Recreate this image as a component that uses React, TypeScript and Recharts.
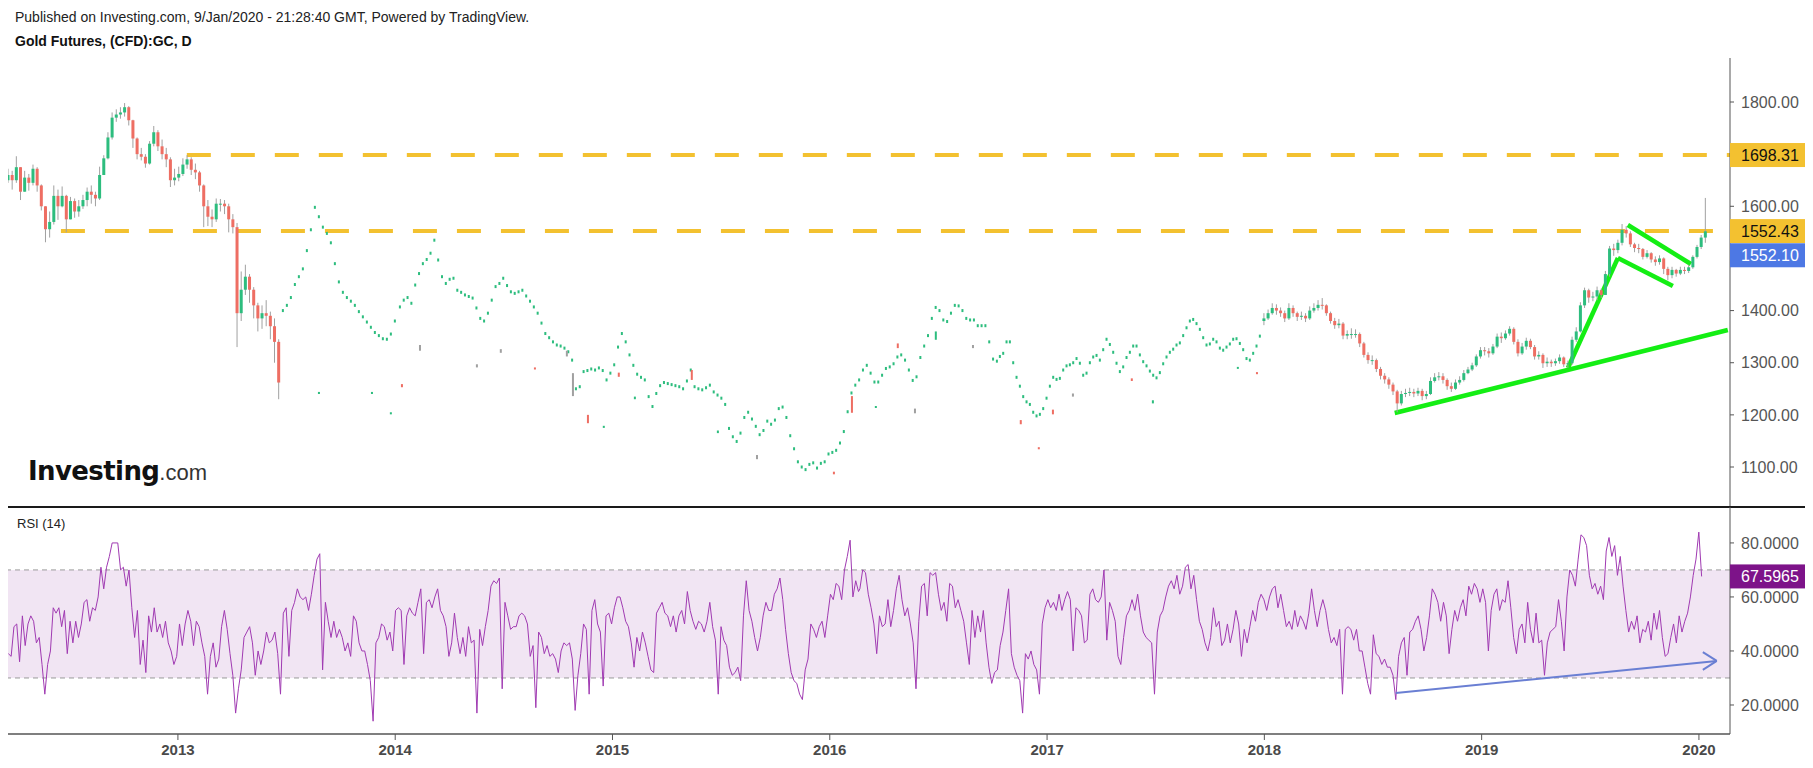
import {
  ComposedChart,
  Scatter,
  Line,
  XAxis,
  YAxis,
  ReferenceLine,
  ReferenceArea,
} from "recharts";

// ---- axis ranges (years on x, price / RSI on y) ----
const X_MIN = 2012.218;
const X_MAX = 2020.143;
const P_MIN = 1023.3;
const P_MAX = 1884.4;
const R_MIN = 9.26;
const R_MAX = 93.3;
const PRICE_PLOT_H = 449;
const PX = PRICE_PLOT_H / (P_MAX - P_MIN);

const YEARS = [2013, 2014, 2015, 2016, 2017, 2018, 2019, 2020];
const PRICE_TICKS = [1100, 1200, 1300, 1400, 1600, 1800];
const RSI_TICKS = [20, 40, 60, 80];

const WEEK = 7 / 365.25;

// weekly candles, Mar 2012 - Jun 2013
const EARLY_START = 2012.218;
const EARLY_FIRST_OPEN = 1650;
const EARLY_CLOSE = [
  1660, 1650, 1675, 1628, 1655, 1645, 1672, 1640, 1600, 1556,
  1570, 1620, 1600, 1620, 1575, 1610, 1590, 1600, 1612, 1628,
  1622, 1615, 1660, 1692, 1732, 1770, 1776, 1780, 1790, 1765,
  1730, 1700, 1695, 1682, 1720, 1742, 1715, 1700, 1690, 1650,
  1655, 1662, 1680, 1690, 1670, 1665, 1640, 1600, 1580, 1575,
  1605, 1605, 1600, 1575, 1560, 1395, 1440, 1465, 1440, 1410,
  1385, 1395, 1390, 1370, 1340, 1262,
];
const EARLY_HIGH = [
  1672, 1668, 1696, 1665, 1668, 1662, 1680, 1675, 1642, 1600,
  1590, 1640, 1632, 1638, 1622, 1618, 1615, 1612, 1622, 1636,
  1640, 1628, 1676, 1698, 1742, 1780, 1786, 1790, 1798, 1792,
  1766, 1732, 1712, 1700, 1725, 1754, 1746, 1728, 1712, 1694,
  1672, 1676, 1692, 1698, 1694, 1682, 1668, 1642, 1612, 1594,
  1615, 1614, 1612, 1605, 1585, 1568, 1475, 1488, 1470, 1445,
  1415, 1410, 1420, 1398, 1385, 1345,
];
const EARLY_LOW = [
  1645, 1632, 1645, 1612, 1632, 1630, 1640, 1628, 1592, 1531,
  1540, 1565, 1574, 1598, 1550, 1575, 1578, 1580, 1595, 1600,
  1605, 1600, 1612, 1660, 1690, 1728, 1762, 1768, 1772, 1755,
  1712, 1690, 1688, 1674, 1680, 1715, 1706, 1690, 1675, 1637,
  1640, 1648, 1658, 1672, 1660, 1652, 1628, 1560, 1562, 1560,
  1570, 1590, 1585, 1550, 1548, 1330, 1380, 1430, 1415, 1385,
  1360, 1365, 1370, 1345, 1300, 1230,
];

// weekly candles, Jan 2018 - Jan 2020
const LATE_START = 2017.998;
const LATE_FIRST_OPEN = 1380;
const LATE_CLOSE = [
  1385, 1395, 1405, 1400, 1395, 1385, 1405, 1395, 1388, 1390,
  1385, 1400, 1405, 1411, 1410, 1395, 1380, 1372, 1375, 1352,
  1355, 1355, 1355, 1337, 1315, 1305, 1305, 1288, 1275, 1268,
  1258, 1245, 1222, 1240, 1242, 1244, 1241, 1246, 1236, 1240,
  1265, 1272, 1274, 1267, 1255, 1250, 1262, 1267, 1280, 1287,
  1295, 1312, 1324, 1322, 1318, 1331, 1350, 1347, 1356, 1365,
  1340, 1318, 1331, 1342, 1330, 1312, 1315, 1299, 1302, 1299,
  1303, 1310, 1297, 1299, 1344, 1360, 1410, 1439, 1425, 1427,
  1439, 1430, 1470, 1519, 1516, 1530, 1555, 1548, 1527, 1520,
  1518, 1503, 1510, 1498, 1493, 1500, 1480, 1468, 1478, 1471,
  1478, 1476, 1483, 1503, 1522, 1540, 1552,
];
const LATE_HIGH = [
  1395, 1402, 1414, 1412, 1406, 1400, 1414, 1410, 1398, 1398,
  1395, 1408, 1414, 1420, 1424, 1412, 1398, 1386, 1384, 1378,
  1362, 1366, 1364, 1358, 1340, 1320, 1314, 1308, 1292, 1280,
  1272, 1262, 1248, 1246, 1250, 1252, 1250, 1252, 1250, 1246,
  1272, 1280, 1282, 1280, 1270, 1262, 1268, 1274, 1286, 1292,
  1300, 1316, 1330, 1330, 1328, 1336, 1356, 1358, 1362, 1370,
  1368, 1345, 1338, 1348, 1346, 1334, 1322, 1318, 1310, 1306,
  1308, 1316, 1312, 1304, 1350, 1368, 1416, 1444, 1442, 1436,
  1446, 1442, 1476, 1524, 1528, 1536, 1566, 1562, 1552, 1530,
  1528, 1520, 1516, 1512, 1504, 1506, 1502, 1484, 1484, 1480,
  1484, 1484, 1488, 1506, 1526, 1545, 1616,
];
const LATE_LOW = [
  1372, 1382, 1392, 1392, 1388, 1378, 1382, 1388, 1380, 1382,
  1378, 1382, 1396, 1400, 1402, 1390, 1375, 1365, 1366, 1345,
  1345, 1346, 1348, 1330, 1310, 1298, 1296, 1282, 1268, 1260,
  1250, 1238, 1205, 1218, 1234, 1236, 1234, 1236, 1228, 1230,
  1238, 1262, 1266, 1260, 1248, 1244, 1248, 1258, 1264, 1278,
  1284, 1292, 1308, 1314, 1310, 1315, 1328, 1338, 1344, 1352,
  1335, 1312, 1315, 1325, 1326, 1306, 1306, 1290, 1292, 1292,
  1294, 1298, 1292, 1290, 1296, 1340, 1358, 1405, 1415, 1418,
  1420, 1424, 1430, 1465, 1505, 1510, 1525, 1540, 1522, 1512,
  1510, 1498, 1500, 1492, 1486, 1488, 1470, 1458, 1462, 1465,
  1468, 1470, 1472, 1480, 1500, 1518, 1530,
];

// sparse dotted prints, mid 2013 - end 2017
const DOTS_A_START = 2013.483;
const DOTS_A_STEP = 0.018408;
const DOTS_A = [
  1400, 1410, 1425, 1450, 1465, 1480, 1515, 1555, 1598, 1580,
  1560, 1548, 1530, 1490, 1455, 1435, 1425, 1418, 1410, 1398,
  1388, 1378, 1368, 1358, 1352, 1346, 1345, 1355, 1380,
];
const DOTS_B_START = 2014.0216;
const DOTS_B_STEP = 0.017612;
const DOTS_B = [
  1407, 1420, 1425, 1414, 1449, 1471, 1490, 1498, 1510, 1535,
  1497, 1465, 1452, 1460, 1462, 1439, 1435, 1430, 1427, 1424,
  1405, 1385, 1380, 1395, 1420, 1446, 1452, 1462, 1448, 1436,
  1433, 1436, 1439, 1428, 1418, 1407, 1395, 1376, 1356, 1348,
  1340, 1334, 1332, 1328, 1321, 1305, 1250, 1254, 1283, 1285,
  1288, 1286, 1290, 1285, 1267, 1280, 1296, 1330, 1356, 1340,
  1315, 1295, 1278, 1272, 1267, 1235, 1216, 1241, 1256, 1262,
  1260, 1258, 1256, 1254, 1250, 1265, 1286, 1254, 1250, 1248,
  1252, 1257, 1244, 1238, 1232, 1220, 1174, 1158, 1149, 1165,
  1195, 1205, 1192, 1178, 1162, 1170, 1188, 1182, 1190, 1212,
  1215, 1195, 1160, 1135, 1110, 1100, 1095, 1105, 1108, 1098,
  1107, 1110, 1125, 1128, 1132, 1146, 1168, 1206, 1242, 1257,
  1267, 1286, 1295, 1280, 1263, 1263, 1276, 1289, 1292, 1298,
  1311, 1315, 1305, 1286, 1266, 1273, 1310, 1332, 1352, 1385,
  1406, 1400, 1382, 1379, 1395, 1410, 1409, 1400, 1385, 1382,
  1382, 1371, 1371, 1371, 1340, 1307, 1303,
];
const DOTS_C_START = 2016.7828;
const DOTS_C_STEP = 0.015339;
const DOTS_C = [
  1312, 1318, 1340, 1340, 1300, 1272, 1255, 1235, 1225, 1220,
  1205, 1198, 1201, 1212, 1232, 1255, 1272, 1268, 1270, 1286,
  1294, 1296, 1300, 1308, 1299, 1276, 1280, 1300, 1311, 1314,
  1305, 1325, 1345, 1335, 1320, 1299, 1283, 1292, 1310, 1320,
  1332, 1332, 1315, 1302, 1294, 1284, 1276, 1271, 1281, 1298,
  1311, 1320, 1326, 1334, 1338, 1352, 1367, 1380, 1383, 1375,
  1364, 1348, 1334, 1336, 1345, 1340, 1328, 1324, 1330, 1336,
  1345, 1346, 1337, 1325, 1308, 1305, 1318, 1332, 1351,
];
// stray wicks inside the sparse stretch: [year, low, high, kind]
const STRAYS: [number, number, number, string][] = [
  [2013.649, 1240, 1244, "g"], [2013.893, 1240, 1244, "g"], [2013.98, 1201, 1205, "g"],
  [2014.031, 1253, 1259, "r"], [2014.114, 1323, 1334, "w"], [2014.376, 1291, 1297, "w"],
  [2014.486, 1319, 1326, "w"], [2014.643, 1287, 1291, "r"], [2014.79, 1312, 1323, "w"],
  [2014.818, 1236, 1280, "w"], [2014.887, 1184, 1200, "r"], [2014.96, 1175, 1179, "g"],
  [2015.029, 1273, 1281, "r"], [2015.103, 1230, 1235, "g"], [2015.365, 1267, 1286, "r"],
  [2015.485, 1165, 1170, "g"], [2015.665, 1115, 1123, "w"], [2016.019, 1086, 1091, "r"],
  [2016.102, 1204, 1236, "r"], [2016.212, 1214, 1217, "g"], [2016.313, 1328, 1337, "r"],
  [2016.392, 1203, 1212, "w"], [2016.488, 1344, 1360, "g"], [2016.659, 1328, 1334, "w"],
  [2016.879, 1182, 1190, "r"], [2016.962, 1134, 1138, "r"], [2017.027, 1201, 1210, "r"],
  [2017.119, 1235, 1241, "w"], [2017.39, 1265, 1270, "r"], [2017.487, 1222, 1228, "g"],
  [2017.878, 1289, 1292, "g"], [2017.966, 1278, 1282, "r"],
];

// RSI(14), sampled about every 4.7 days
const RSI_STEP = 0.012913;
const RSI_A_START = 2012.2196;
const RSI_A = [
  39, 38, 49, 50, 36, 53, 42, 50, 53, 51,
  43, 45, 35, 24, 35, 40, 56, 54, 56, 49,
  55, 39, 51, 43, 51, 45, 50, 58, 59, 51,
  56, 55, 60, 71, 63, 71, 75, 80, 80, 80,
  70, 71, 64, 70, 56, 45, 55, 35, 44, 32,
  53, 47, 56, 47, 50, 45, 51, 43, 40, 35,
  38, 50, 42, 50, 55, 51, 42, 51, 49, 43,
  38, 24, 38, 43, 34, 37, 49, 55, 48, 39,
  31, 17, 26, 33, 45, 47, 49, 43, 31, 40,
  35, 40, 47, 43, 44, 47, 39, 24, 54, 56,
  38, 55, 58, 63, 60, 59, 60, 55, 61, 68,
  74, 76, 33, 58, 51, 45, 51, 45, 48, 45,
  40, 43, 38, 53, 51, 43, 40, 40, 35, 29,
  14, 43, 45, 50, 49, 44, 47, 40, 55, 56,
  55, 35, 53, 56, 54, 53, 58, 63, 39, 58,
  59, 56, 60, 63, 55, 53, 49, 38, 43, 54,
  45, 39, 45, 38, 49, 43, 44, 17, 48, 42,
  49, 55, 64, 66, 65, 67, 26, 58, 53, 48,
  49, 49, 53, 54, 53, 50, 38, 42, 19, 47,
  45, 39, 42, 38, 39, 37, 32, 40, 43, 42,
  43, 37, 18, 31, 39, 50, 48, 24, 55, 59,
  50, 47, 27, 53, 54, 50, 56, 60, 60, 56,
  51, 49, 43, 34, 45, 40, 47, 43, 38, 33,
  32, 54, 56, 58, 54, 53, 49, 53, 47, 53,
  55, 50, 62, 55, 51, 48, 51, 50, 47, 51,
  58, 49, 44, 24, 49, 44, 42, 34, 31, 32,
  34, 29, 53, 66, 55, 51, 45, 40, 45, 53,
  58, 55, 55, 61, 63, 67, 59, 48, 39, 32,
  29, 28, 24, 22, 33, 37, 50, 48, 45, 49,
  51, 45, 53, 61, 59, 65, 64, 59, 70, 75,
  81, 60, 66, 62,
];
const RSI_B_START = 2016.1385;
const RSI_B = [
  63, 70, 69, 61, 56, 50, 39, 53, 49, 50,
  59, 49, 55, 63, 68, 59, 53, 56, 50, 43,
  26, 51, 64, 65, 53, 69, 68, 69, 61, 55,
  58, 51, 65, 64, 56, 59, 55, 51, 43, 35,
  55, 45, 53, 47, 55, 43, 34, 28, 32, 33,
  42, 47, 55, 63, 39, 34, 31, 29, 17, 39,
  37, 40, 35, 33, 24, 50, 56, 59, 56, 58,
  55, 61, 55, 59, 62, 59, 40, 56, 55, 53,
  43, 44, 61, 63, 59, 58, 60, 70, 44, 58,
  55, 51, 38, 35, 45, 53, 55, 59, 55, 61,
  53, 47, 45, 44, 43, 24, 47, 53, 55, 60,
  64, 66, 63, 68, 61, 64, 71, 72, 63, 68,
  59, 51, 48, 43, 40, 45, 56, 49, 51, 42,
  44, 50, 43, 48, 55, 50, 38, 48, 43, 49,
  55, 51, 58, 61, 59, 55, 60, 63, 64, 56,
  61, 55, 49, 51, 48, 55, 49, 53, 51, 48,
  54, 63, 55, 49, 55, 59, 55, 48, 43, 45,
  42, 48, 24, 48, 49, 48, 44, 48, 40, 40,
  34, 28, 24, 46, 39, 38, 35, 37, 34, 34,
  31, 22, 38, 43, 45, 31, 47, 48, 51, 53,
  48, 40, 45, 53, 63, 61, 58, 51, 58, 53,
  39, 48, 55, 51, 56, 59, 53, 64, 61, 65,
  63, 58, 63, 58, 40, 55, 61, 63, 55, 59,
  58, 66, 56, 45, 39, 48, 50, 43, 58, 48,
  43, 54, 43, 44, 31, 43, 47, 48, 49, 59,
  51, 40, 60, 70, 68, 64, 74, 83, 82, 79,
  68, 63, 65, 61, 64, 59, 77, 82, 75, 79,
  68, 75, 64, 55, 47, 51, 48, 53, 43, 48,
  47, 51, 44, 54, 48, 55, 45, 38, 39, 45,
  50, 43, 53, 47, 51, 54, 60, 68, 74, 84,
  67.5965,
];

// drawn levels and trend lines
const LEVEL_HIGH = 1698.31;
const LEVEL_LOW = 1552.43;
const LAST_PRICE = 1552.1;
const LAST_RSI = 67.5965;
const TRENDS: [number, number, number, number][] = [
  [2018.6, 1203.5, 2020.133, 1362.7],
  [2019.397, 1289.8, 2019.627, 1500.8],
  [2019.627, 1500.8, 2019.88, 1447.1],
  [2019.673, 1564.1, 2019.963, 1489.3],
];
const RSI_ARROW: [number, number, number, number][] = [
  [2018.605, 24.4, 2020.082, 36.3],
  [2020.018, 39.6, 2020.082, 36.3],
  [2020.018, 33.0, 2020.082, 36.3],
];

const FONT = "'Liberation Sans', Arial, sans-serif";
const UP = "#2dbd7e";
const DOWN = "#ee6e63";
const WICK = "#a0a0a0";
const GOLD = "#f3c130";
const TREND = "#14ee14";
const AXIS = "#555";

const buildCandles = (start: number, firstOpen: number, close: number[], high: number[], low: number[]) =>
  close.map((c, i) => {
    const o = i === 0 ? firstOpen : close[i - 1];
    return { x: start + i * WEEK, y: c, o, h: Math.max(high[i], o, c), l: Math.min(low[i], o, c) };
  });

const candles = [
  ...buildCandles(EARLY_START, EARLY_FIRST_OPEN, EARLY_CLOSE, EARLY_HIGH, EARLY_LOW),
  ...buildCandles(LATE_START, LATE_FIRST_OPEN, LATE_CLOSE, LATE_HIGH, LATE_LOW),
];
const dots = [
  ...DOTS_A.map((v, i) => ({ x: DOTS_A_START + i * DOTS_A_STEP, y: v })),
  ...DOTS_B.map((v, i) => ({ x: DOTS_B_START + i * DOTS_B_STEP, y: v })),
  ...DOTS_C.map((v, i) => ({ x: DOTS_C_START + i * DOTS_C_STEP, y: v })),
];
const strays = STRAYS.map(([x, l, h, k]) => ({ x, y: l, h, k }));
const rsi = [
  ...RSI_A.map((r, i) => ({ x: RSI_A_START + i * RSI_STEP, r })),
  ...RSI_B.map((r, i) => ({ x: RSI_B_START + i * RSI_STEP, r })),
];

function Candle(props: any) {
  const { cx, cy, payload } = props;
  if (cx == null || cy == null) return null;
  const { o, y: c, h, l } = payload;
  const yOf = (v: number) => cy - (v - c) * PX;
  const top = yOf(Math.max(o, c));
  const bot = yOf(Math.min(o, c));
  return (
    <g>
      <line x1={cx} x2={cx} y1={yOf(h)} y2={yOf(l)} stroke={WICK} strokeWidth={1} />
      <rect x={cx - 1.5} y={top} width={3} height={Math.max(1, bot - top)} fill={c >= o ? UP : DOWN} />
    </g>
  );
}

function DotMark(props: any) {
  const { cx, cy } = props;
  if (cx == null || cy == null) return null;
  return <rect x={cx - 1} y={cy - 1.5} width={2} height={3} fill={UP} />;
}

function StrayMark(props: any) {
  const { cx, cy, payload } = props;
  if (cx == null || cy == null) return null;
  const top = cy - (payload.h - payload.y) * PX;
  const fill = payload.k === "r" ? DOWN : payload.k === "g" ? UP : WICK;
  return <rect x={cx - 1} y={top} width={2} height={Math.max(2, cy - top)} fill={fill} />;
}

const PRICE_TAGS = [
  { value: LEVEL_HIGH, bg: GOLD, fg: "#111", shift: 0 },
  { value: LEVEL_LOW, bg: GOLD, fg: "#111", shift: 0 },
  { value: LAST_PRICE, bg: "#4d78e4", fg: "#fff", shift: 24 },
];

function PriceTick(props: any) {
  const { x, y, payload } = props;
  const v = payload.value as number;
  const tag = PRICE_TAGS.find((t) => t.value === v);
  if (tag) {
    const cy = y + tag.shift;
    return (
      <g>
        <rect x={x - 11} y={cy - 12} width={76} height={24} fill={tag.bg} />
        <text x={x} y={cy} dy="0.36em" fill={tag.fg} fontSize={16} fontFamily={FONT}>
          {v.toFixed(2)}
        </text>
      </g>
    );
  }
  return (
    <text x={x} y={y} dy="0.36em" fill={AXIS} fontSize={16} fontFamily={FONT}>
      {v.toFixed(2)}
    </text>
  );
}

function RsiTick(props: any) {
  const { x, y, payload } = props;
  const v = payload.value as number;
  if (v === LAST_RSI) {
    return (
      <g>
        <rect x={x - 11} y={y - 12} width={76} height={24} fill="#7d1389" />
        <text x={x} y={y} dy="0.36em" fill="#fff" fontSize={16} fontFamily={FONT}>
          {v.toFixed(4)}
        </text>
      </g>
    );
  }
  return (
    <text x={x} y={y} dy="0.36em" fill={AXIS} fontSize={16} fontFamily={FONT}>
      {v.toFixed(4)}
    </text>
  );
}

function YearTick(props: any) {
  const { x, y, payload } = props;
  return (
    <text x={x} y={y} dy="0.71em" textAnchor="middle" fontSize={15} fontWeight="bold" fill="#4a4a4a" fontFamily={FONT}>
      {payload.value}
    </text>
  );
}

export default function App() {
  return (
    <div style={{ position: "relative", width: 1797, height: 752, fontFamily: FONT }}>
      <div style={{ position: "absolute", left: 7, top: 1, fontSize: 14, lineHeight: "16px", color: "#222", whiteSpace: "nowrap" }}>
        Published on Investing.com, 9/Jan/2020 - 21:28:40 GMT, Powered by TradingView.
      </div>
      <div style={{ position: "absolute", left: 7, top: 25, fontSize: 14, lineHeight: "16px", fontWeight: "bold", color: "#111", whiteSpace: "nowrap" }}>
        Gold Futures, (CFD):GC, D
      </div>

      <div style={{ position: "absolute", left: 0, top: 0 }}>
        <ComposedChart width={1797} height={499} margin={{ top: 50, right: 0, bottom: 0, left: 0 }}>
          <XAxis type="number" dataKey="x" domain={[X_MIN, X_MAX]} hide allowDataOverflow />
          <YAxis
            type="number"
            dataKey="y"
            orientation="right"
            domain={[P_MIN, P_MAX]}
            allowDataOverflow
            ticks={[...PRICE_TICKS, LEVEL_HIGH, LEVEL_LOW, LAST_PRICE]}
            interval={0}
            width={75}
            tickSize={4}
            tickMargin={7}
            axisLine={{ stroke: AXIS }}
            tickLine={{ stroke: AXIS }}
            tick={(p: any) => <PriceTick {...p} />}
          />
          <Scatter data={dots} shape={DotMark} isAnimationActive={false} />
          <Scatter data={strays} shape={StrayMark} isAnimationActive={false} />
          <Scatter data={candles} shape={Candle} isAnimationActive={false} />
          <ReferenceLine
            segment={[{ x: 2013.041, y: LEVEL_HIGH }, { x: X_MAX, y: LEVEL_HIGH }]}
            stroke={GOLD}
            strokeWidth={4}
            strokeDasharray="24 20"
            ifOverflow="visible"
          />
          <ReferenceLine
            segment={[{ x: 2012.4616, y: LEVEL_LOW }, { x: X_MAX, y: LEVEL_LOW }]}
            stroke={GOLD}
            strokeWidth={4}
            strokeDasharray="24 20"
            ifOverflow="visible"
          />
          {TRENDS.map(([x1, y1, x2, y2], i) => (
            <ReferenceLine
              key={i}
              segment={[{ x: x1, y: y1 }, { x: x2, y: y2 }]}
              stroke={TREND}
              strokeWidth={4.5}
              ifOverflow="visible"
            />
          ))}
        </ComposedChart>
      </div>

      <svg style={{ position: "absolute", left: 0, top: 443 }} width={260} height={50}>
        <text x={20} y={29} fontFamily="'DejaVu Sans', sans-serif" fontWeight="bold" fontSize={26} fill="#111" letterSpacing={-0.6}>
          Investing
          <tspan fontFamily={FONT} fontWeight="normal" fontSize={22} fill="#333" letterSpacing={0}>
            .com
          </tspan>
        </text>
      </svg>

      <div style={{ position: "absolute", left: 0, top: 498, width: 1797, height: 2, background: "#1a1a1a" }} />

      <div style={{ position: "absolute", left: 0, top: 499 }}>
        <ComposedChart width={1797} height={253} margin={{ top: 0, right: 0, bottom: 0, left: 0 }}>
          <XAxis
            type="number"
            dataKey="x"
            domain={[X_MIN, X_MAX]}
            allowDataOverflow
            ticks={YEARS}
            interval={0}
            height={26}
            tickSize={6}
            tickMargin={4}
            axisLine={{ stroke: AXIS, strokeWidth: 1.5 }}
            tickLine={{ stroke: AXIS }}
            tick={(p: any) => <YearTick {...p} />}
          />
          <YAxis
            type="number"
            orientation="right"
            domain={[R_MIN, R_MAX]}
            allowDataOverflow
            ticks={[...RSI_TICKS, LAST_RSI]}
            interval={0}
            width={75}
            tickSize={4}
            tickMargin={7}
            axisLine={{ stroke: AXIS }}
            tickLine={{ stroke: AXIS }}
            tick={(p: any) => <RsiTick {...p} />}
          />
          <ReferenceArea x1={X_MIN} x2={X_MAX} y1={30} y2={70} fill="#f1e5f3" fillOpacity={1} stroke="none" />
          <ReferenceLine y={70} stroke="#9a9a9a" strokeDasharray="5 4" />
          <ReferenceLine y={30} stroke="#9a9a9a" strokeDasharray="5 4" />
          <Line data={rsi} dataKey="r" type="linear" stroke="#a03ab2" strokeWidth={1} dot={false} isAnimationActive={false} />
          {RSI_ARROW.map(([x1, y1, x2, y2], i) => (
            <ReferenceLine
              key={i}
              segment={[{ x: x1, y: y1 }, { x: x2, y: y2 }]}
              stroke="#6a7fd3"
              strokeWidth={2}
              ifOverflow="visible"
            />
          ))}
        </ComposedChart>
      </div>

      <div style={{ position: "absolute", left: 9, top: 508, fontSize: 13, lineHeight: "15px", color: "#222" }}>RSI (14)</div>
    </div>
  );
}
